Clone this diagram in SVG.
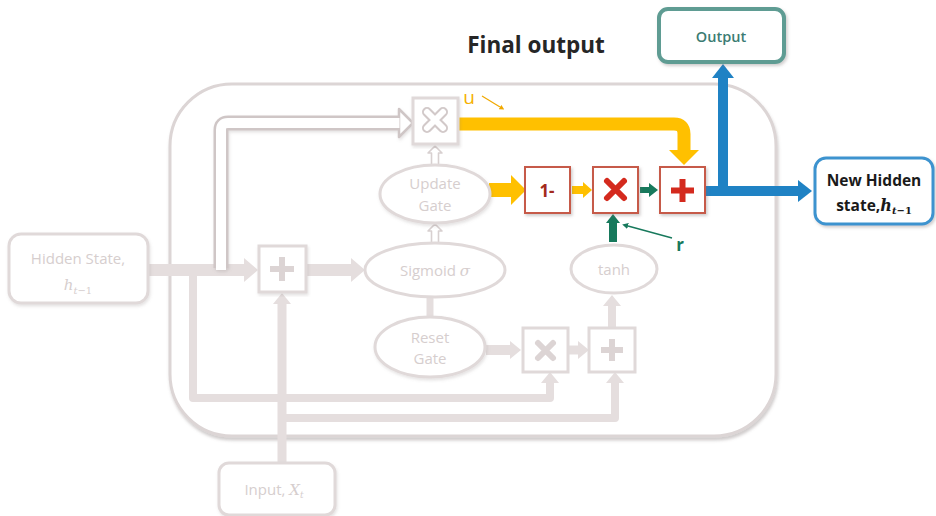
<svg xmlns="http://www.w3.org/2000/svg" width="936" height="516" viewBox="0 0 936 516">
  <defs>
    <filter id="soft" x="-20%" y="-20%" width="140%" height="140%">
      <feDropShadow dx="1.5" dy="2" stdDeviation="1.6" flood-color="#7a6f6f" flood-opacity="0.35"/>
    </filter>
    <filter id="faint" x="-10%" y="-10%" width="120%" height="120%">
      <feDropShadow dx="1" dy="2" stdDeviation="1.5" flood-color="#8a8080" flood-opacity="0.22"/>
    </filter>
    <filter id="frame" x="-5%" y="-5%" width="110%" height="112%">
      <feDropShadow dx="1" dy="3" stdDeviation="1.8" flood-color="#7a7070" flood-opacity="0.35"/>
    </filter>
    <marker id="hg-lg" markerUnits="userSpaceOnUse" markerWidth="14" markerHeight="24" refX="0" refY="12" orient="auto">
      <path d="M0,0 L14,12 L0,24 z" fill="#E5DEDE"/>
    </marker>
    <marker id="hg-sm" markerUnits="userSpaceOnUse" markerWidth="11" markerHeight="18" refX="0" refY="9" orient="auto">
      <path d="M0,0 L11,9 L0,18 z" fill="#E5DEDE"/>
    </marker>
    <marker id="hy-lg" markerUnits="userSpaceOnUse" markerWidth="15" markerHeight="30" refX="0" refY="15" orient="auto">
      <path d="M0,0 L15,15 L0,30 z" fill="#FFC000"/>
    </marker>
    <marker id="hy-sm" markerUnits="userSpaceOnUse" markerWidth="9" markerHeight="16" refX="0" refY="8" orient="auto">
      <path d="M0,0 L9,8 L0,16 z" fill="#FFC000"/>
    </marker>
    <marker id="hgreen" markerUnits="userSpaceOnUse" markerWidth="9" markerHeight="14" refX="0" refY="7" orient="auto">
      <path d="M0,0 L9,7 L0,14 z" fill="#17795C"/>
    </marker>
    <marker id="hblue" markerUnits="userSpaceOnUse" markerWidth="14" markerHeight="22" refX="0" refY="11" orient="auto">
      <path d="M0,0 L14,11 L0,22 z" fill="#1F82C4"/>
    </marker>
    <marker id="hthin-o" markerUnits="userSpaceOnUse" markerWidth="5" markerHeight="5" refX="0" refY="2.5" orient="auto">
      <path d="M0,0 L5,2.5 L0,5 z" fill="#F0A800"/>
    </marker>
    <marker id="hthin-g" markerUnits="userSpaceOnUse" markerWidth="6" markerHeight="6" refX="0" refY="3" orient="auto">
      <path d="M0,0 L6,3 L0,6 z" fill="#17795C"/>
    </marker>
    <style>
      .faded-box { fill: #FFFFFF; stroke: #E0D9D9; stroke-width: 3; }
      .faded-txt { fill: #D6CECE; font-family: "Open Sans", "Liberation Sans", sans-serif; font-size: 15px; text-anchor: middle; }
      .math { font-family: "DejaVu Serif", "Liberation Serif", serif; font-style: italic; }
      .gband { fill: none; stroke: #E5DEDE; stroke-linejoin: round; }
      .red-box { fill: #FFFFFF; stroke: #C65A48; stroke-width: 2; }
      .yband { fill: none; stroke: #FFC000; }
      .bband { fill: none; stroke: #1F82C4; }
      .bold-txt { font-family: "Open Sans", "Liberation Sans", sans-serif; font-weight: bold; text-anchor: middle; }
    </style>
  </defs>

  <rect width="936" height="516" fill="#FFFFFF"/>

  <!-- cell boundary -->
  <g id="cell">
    <rect x="170" y="84" width="606" height="352" rx="62" fill="#FFFFFF" stroke="#DCD5D5" stroke-width="3" filter="url(#frame)"/>
  </g>

  <!-- connectors -->
  <g id="connectors">
    <!-- previous hidden state into the adder -->
    <path class="gband" d="M148,270 H244" stroke-width="12" marker-end="url(#hg-lg)"/>
    <!-- adder to sigmoid -->
    <path class="gband" d="M306,270 H351" stroke-width="12" marker-end="url(#hg-lg)"/>
    <!-- branch down to the reset multiply -->
    <path class="gband" d="M193,270 V398 H550 V383" stroke-width="8" marker-end="url(#hg-sm)"/>
    <!-- input up to the adder -->
    <path class="gband" d="M282,463 V304" stroke-width="9" marker-end="url(#hg-sm)"/>
    <!-- input branch to the candidate adder -->
    <path class="gband" d="M282,418 H615 V383" stroke-width="8" marker-end="url(#hg-sm)"/>
    <!-- reset gate to multiply -->
    <path class="gband" d="M486,350 H510" stroke-width="10" marker-end="url(#hg-sm)"/>
    <!-- multiply to candidate adder -->
    <path class="gband" d="M569,350 H578" stroke-width="9" marker-end="url(#hg-sm)"/>
    <!-- candidate adder to tanh -->
    <path class="gband" d="M612,328 V306" stroke-width="8" marker-end="url(#hg-sm)"/>
    <!-- sigmoid to reset gate -->
    <path class="gband" d="M430,297 V317" stroke-width="7"/>

    <!-- hollow arrow: hidden state to the update multiply -->
    <g filter="url(#faint)">
      <path d="M221,268 V130 Q221,123 228,123 H400" fill="none" stroke="#CFC6C6" stroke-width="15" stroke-linejoin="round"/>
      <path d="M221,270 V130 Q221,123 228,123 H401" fill="none" stroke="#FFFFFF" stroke-width="10" stroke-linejoin="round"/>
      <path d="M399,109 L413,123 L399,137 z" fill="#FFFFFF" stroke="#CFC6C6" stroke-width="2.5" stroke-linejoin="round"/>
      <path d="M398,118 V128" stroke="#FFFFFF" stroke-width="3"/>
    </g>

    <!-- small hollow arrows between update gate, multiply and sigmoid -->
    <g fill="#FFFFFF" stroke="#D8D0D0" stroke-width="1.6" stroke-linejoin="round">
      <path d="M435,146 L442,153 L438.5,153 L438.5,165 L431.5,165 L431.5,153 L428,153 z"/>
      <path d="M435,224 L442,231 L438.5,231 L438.5,243 L431.5,243 L431.5,231 L428,231 z"/>
    </g>

    <!-- update path u to the final adder -->
    <path class="yband" d="M458,124 H674 Q684,124 684,134 V150" stroke-width="13" marker-end="url(#hy-lg)"/>
    <!-- update gate to 1- -->
    <path class="yband" d="M489,190 H511" stroke-width="14" marker-end="url(#hy-lg)"/>
    <!-- 1- to multiply -->
    <path class="yband" d="M572,190 H583" stroke-width="8" marker-end="url(#hy-sm)"/>
    <!-- multiply to final adder -->
    <path d="M640,190 H649" stroke="#17795C" stroke-width="6" marker-end="url(#hgreen)"/>
    <!-- r into multiply -->
    <path d="M613,242 V223" stroke="#17795C" stroke-width="8" marker-end="url(#hgreen)"/>
    <!-- label pointers -->
    <path d="M482,96 L500,107" stroke="#F0A800" stroke-width="1.2" marker-end="url(#hthin-o)"/>
    <path d="M672,238 L628,226" stroke="#17795C" stroke-width="1.4" marker-end="url(#hthin-g)"/>

    <!-- new hidden state out -->
    <path class="bband" d="M705,191 H798" stroke-width="10" marker-end="url(#hblue)"/>
    <path class="bband" d="M723,196 V78" stroke-width="10" marker-end="url(#hblue)"/>
  </g>

  <!-- faded nodes -->
  <g id="hidden-state">
    <rect class="faded-box" x="9" y="234" width="139" height="69" rx="12" filter="url(#faint)"/>
    <text class="faded-txt" x="78" y="264" font-size="16">Hidden State,</text>
    <text class="faded-txt" x="78" y="290" font-size="16"><tspan class="math">h</tspan><tspan class="math" font-size="10" dy="4">t</tspan><tspan font-size="10" font-family="DejaVu Serif, serif">−1</tspan></text>
  </g>

  <g id="input">
    <rect class="faded-box" x="219" y="463" width="116" height="52" rx="10" filter="url(#faint)"/>
    <text class="faded-txt" x="274" y="495">Input, <tspan class="math">X</tspan><tspan class="math" font-size="9" dy="3">t</tspan></text>
  </g>

  <g id="adder">
    <rect class="faded-box" x="259" y="246" width="47" height="46" filter="url(#faint)"/>
    <path d="M282,257 V281 M270,269 H294" stroke="#DCD4D4" stroke-width="6"/>
  </g>

  <g id="update-multiply">
    <rect class="faded-box" x="413" y="98" width="45" height="46" filter="url(#faint)"/>
    <path d="M427,112 L443,128 M443,112 L427,128" stroke="#D2C9C9" stroke-width="10" stroke-linecap="round"/>
    <path d="M427,112 L443,128 M443,112 L427,128" stroke="#FFFFFF" stroke-width="6" stroke-linecap="round"/>
  </g>

  <g id="update-gate">
    <ellipse cx="435" cy="194" rx="55" ry="29" fill="#FFFFFF" stroke="#E0D9D9" stroke-width="3" filter="url(#faint)"/>
    <text class="faded-txt" x="435" y="189">Update</text>
    <text class="faded-txt" x="435" y="211">Gate</text>
  </g>

  <g id="sigmoid">
    <ellipse cx="435" cy="270" rx="70" ry="27" fill="#FFFFFF" stroke="#E0D9D9" stroke-width="3"/>
    <text class="faded-txt" x="435" y="276">Sigmoid <tspan class="math">σ</tspan></text>
  </g>

  <g id="reset-gate">
    <ellipse cx="430" cy="347" rx="55" ry="30" fill="#FFFFFF" stroke="#E0D9D9" stroke-width="3" filter="url(#faint)"/>
    <text class="faded-txt" x="430" y="343">Reset</text>
    <text class="faded-txt" x="430" y="364">Gate</text>
  </g>

  <g id="reset-multiply">
    <rect class="faded-box" x="523" y="328" width="45" height="44"/>
    <path d="M538,343 L553,358 M553,343 L538,358" stroke="#DCD4D4" stroke-width="6" stroke-linecap="round"/>
  </g>

  <g id="candidate-adder">
    <rect class="faded-box" x="589" y="328" width="46" height="44"/>
    <path d="M612,339 V361 M601,350 H623" stroke="#DCD4D4" stroke-width="6"/>
  </g>

  <g id="tanh">
    <ellipse cx="614" cy="269" rx="43" ry="24" fill="#FFFFFF" stroke="#E0D9D9" stroke-width="3"/>
    <text class="faded-txt" x="614" y="275">tanh</text>
  </g>

  <!-- highlighted output stage -->
  <g id="title">
    <text class="bold-txt" x="536" y="53" font-size="22.5" fill="#262626">Final output</text>
  </g>

  <g id="one-minus">
    <rect class="red-box" x="525" y="167" width="45" height="46" filter="url(#soft)"/>
    <text class="bold-txt" x="547" y="197" font-size="17" fill="#A32A1C">1-</text>
  </g>

  <g id="final-multiply">
    <rect class="red-box" x="593" y="167" width="45" height="46" filter="url(#soft)"/>
    <path d="M607,181 L624,198 M624,181 L607,198" stroke="#D42A1E" stroke-width="6" stroke-linecap="round"/>
  </g>

  <g id="final-adder">
    <rect class="red-box" x="660" y="167" width="45" height="46" filter="url(#soft)"/>
    <path d="M682.5,179 V202 M671,190.5 H694" stroke="#D42A1E" stroke-width="6"/>
  </g>

  <g id="labels">
    <text x="469" y="104" font-family="Open Sans, Liberation Sans, sans-serif" font-size="19" fill="#F5B000" text-anchor="middle">u</text>
    <text class="bold-txt" x="680" y="251" font-size="17" fill="#17795C">r</text>
  </g>

  <g id="output">
    <rect x="659" y="9" width="125" height="53" rx="9" fill="#FFFFFF" stroke="#5E9C93" stroke-width="4" filter="url(#soft)"/>
    <text x="721" y="42" font-family="Open Sans, Liberation Sans, sans-serif" font-weight="600" font-size="14.5" fill="#3B7C73" text-anchor="middle">Output</text>
  </g>

  <g id="new-hidden-state">
    <rect x="815" y="158" width="118" height="66" rx="11" fill="#FFFFFF" stroke="#3C93CF" stroke-width="3" filter="url(#soft)"/>
    <text class="bold-txt" x="874" y="186" font-size="15.5" fill="#1A1A1A">New Hidden</text>
    <text class="bold-txt" x="874" y="211" font-size="15.5" fill="#1A1A1A">state,<tspan font-family="DejaVu Serif, serif" font-style="italic" font-size="16">h</tspan><tspan font-family="DejaVu Serif, serif" font-style="italic" font-size="10" dy="3">t</tspan><tspan font-family="DejaVu Serif, serif" font-size="10">−1</tspan></text>
  </g>
</svg>
